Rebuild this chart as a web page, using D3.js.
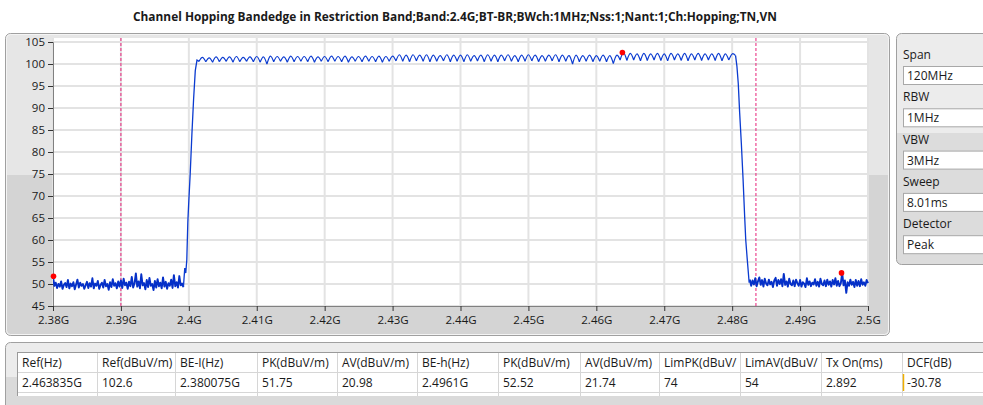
<!DOCTYPE html>
<html><head><meta charset="utf-8">
<script src="https://cdn.jsdelivr.net/npm/d3@7"></script>
<style>
body{margin:0;background:#fff;}
text{font-family:"Open Sans","Noto Sans",sans-serif;fill:#1a1a1a;}
</style></head><body>
<svg id="c" width="983" height="405"></svg>
<script>
const chartTitle = "Channel Hopping Bandedge in Restriction Band;Band:2.4G;BT-BR;BWch:1MHz;Nss:1;Nant:1;Ch:Hopping;TN,VN";
const yTicks = [45,50,55,60,65,70,75,80,85,90,95,100,105];
const xTickValues = [2380,2390,2400,2410,2420,2430,2440,2450,2460,2470,2480,2490,2500];
const xTickLabels = ["2.38G","2.39G","2.4G","2.41G","2.42G","2.43G","2.44G","2.45G","2.46G","2.47G","2.48G","2.49G","2.5G"];
const limitLines = [2390, 2483.5];

// trace, MHz / dBuV/m
const noiseLeftStart = 2380, noiseStep = 0.2;
const noiseLeft = [51.7,49.6,50.3,49.1,50.0,49.4,50.6,48.9,49.8,50.2,
49.3,50.9,49.0,50.1,49.5,50.4,48.8,49.9,51.0,49.2,
50.3,49.6,50.0,48.9,49.7,50.5,49.1,50.2,49.4,51.3,
49.0,50.1,49.6,50.7,48.9,49.8,50.3,49.2,50.9,49.5,
50.0,48.7,50.4,49.3,51.1,49.6,50.2,49.0,50.6,49.4,
50.8,49.1,51.2,49.7,50.3,48.9,50.5,49.5,51.6,49.2,
50.1,52.4,49.4,50.6,49.0,52.2,49.7,50.2,48.8,50.9,
49.3,51.4,49.6,50.0,48.6,50.7,49.2,51.1,49.5,50.3,
49.0,51.5,49.4,50.5,48.9,50.2,49.6,51.0,49.1,52.0,
49.5,50.4,49.2,51.8,49.7,50.1,49.3];
const riseFreq  = [2399.2,2399.4,2399.55,2399.7,2399.85,2400.0,2400.2,2400.45,2400.7,2400.95,2401.2,2401.5];
const riseLevel = [49.3,53.6,52.5,55.5,64,69,75,84,92,98.5,100.9,100.6];
const channelEdgeStart = 2401.5;
const channelPeaks = [101.5,101.4,101.6,101.5,101.6,101.7,101.5,101.6,
101.7,101.6,101.8,101.7,101.6,101.8,101.7,101.7,101.8,101.6,
101.7,101.8,101.7,101.8,101.6,101.7,101.8,101.7,101.8,101.7,
101.8,102.1,102.0,102.1,102.0,102.1,102.0,101.9,102.1,102.0,
102.0,102.1,101.9,102.0,102.1,102.0,102.0,102.1,101.9,102.0,
102.1,102.0,101.9,102.0,102.1,102.0,101.9,102.0,101.9,102.0,
101.9,102.0,101.9,102.0,102.6,102.4,102.3,102.4,102.3,102.4,
102.3,102.4,102.3,102.4,102.3,102.4,102.3,102.3,102.4,102.3,102.3];
const channelEdgeLevels = [100.6,100.5,100.4,100.5,100.6,100.4,100.5,100.6,100.5,100.4,
100.0,100.5,100.6,100.4,100.5,100.6,100.5,100.4,100.6,100.5,
100.6,100.5,100.4,100.6,100.5,100.6,100.5,100.4,100.6,100.7,
100.6,100.5,100.7,100.6,100.5,100.6,100.7,100.5,100.6,100.5,
100.6,100.7,100.5,100.6,100.5,100.7,100.6,100.5,100.6,100.7,
100.5,100.6,100.7,100.5,100.6,100.0,100.5,100.6,100.5,100.6,
100.5,100.1,100.9,100.8,100.9,100.7,100.8,100.9,100.8,100.7,
100.9,100.8,100.7,100.9,100.8,100.9,100.8,100.7,100.9,101.9];
const fallFreq  = [2480.5,2480.7,2480.9,2481.1,2481.35,2481.6,2481.85,2482.0,2482.2,2482.4,2482.5,2482.6];
const fallLevel = [101.9,99.5,95.5,89,82,74,65,60,56,52.2,50.3,51.0];
const noiseRightStart = 2482.6;
const noiseRight = [51.0,49.6,50.8,49.9,51.3,49.5,50.6,51.5,49.8,50.9,
49.4,51.2,50.1,49.7,51.0,49.9,50.5,49.3,50.8,51.4,
49.6,50.9,50.0,51.1,49.5,52.3,49.8,50.6,49.4,51.2,
50.0,49.7,50.8,49.5,51.0,50.2,49.6,50.9,49.4,50.4,
50.1,49.3,51.3,49.8,50.6,49.5,50.3,49.9,51.1,49.6,
50.5,49.4,51.2,50.0,49.7,50.8,49.5,51.0,49.8,50.6,
49.4,50.9,49.9,51.3,49.6,50.7,49.5,50.2,52.5,49.7,
50.8,48.0,50.4,49.6,51.0,49.8,50.5,49.3,50.9,49.6,
50.7,49.5,51.1,49.8,50.4,49.6,50.9,50.2];
const markerFreq  = [2380.075, 2463.835, 2496.1];
const markerLevel = [51.75, 102.6, 52.52];

const settingLabels = ["Span","RBW","VBW","Sweep","Detector"];
const settingValues = ["120MHz","1MHz","3MHz","8.01ms","Peak"];

const tableHeaders = ["Ref(Hz)","Ref(dBuV/m)","BE-I(Hz)","PK(dBuV/m)","AV(dBuV/m)","BE-h(Hz)","PK(dBuV/m)","AV(dBuV/m)","LimPK(dBuV/","LimAV(dBuV/","Tx On(ms)","DCF(dB)"];
const tableValues  = ["2.463835G","102.6","2.380075G","51.75","20.98","2.4961G","52.52","21.74","74","54","2.892","-30.78"];

const svg = d3.select("#c");
const defs = svg.append("defs");
function vgrad(id, split, c1, c2){
  const g = defs.append("linearGradient").attr("id",id).attr("x1",0).attr("y1",0).attr("x2",0).attr("y2",1);
  g.append("stop").attr("offset",0).attr("stop-color",c1);
  g.append("stop").attr("offset",split).attr("stop-color",c1);
  g.append("stop").attr("offset",split).attr("stop-color",c2);
  g.append("stop").attr("offset",1).attr("stop-color",c2);
}
vgrad("gMain", 0.47, "#e6e6e6", "#d4d4d4");
vgrad("gSide", 0.43, "#ececec", "#dcdcdc");
vgrad("gTab", 0.5, "#ececec", "#dadada");

// title
svg.append("text").attr("x",455).attr("y",21).attr("text-anchor","middle")
  .style("font-weight","bold").style("font-size","12px")
  .attr("textLength",644).attr("lengthAdjust","spacingAndGlyphs").text(chartTitle);

// main panel
svg.append("rect").attr("x",5.5).attr("y",33.5).attr("width",884).attr("height",302).attr("rx",5)
  .attr("fill","url(#gMain)").attr("stroke","#a0a0a0");
svg.append("rect").attr("x",6.5).attr("y",34.5).attr("width",882).attr("height",300).attr("rx",4)
  .attr("fill","none").attr("stroke","#f4f4f4");

const x = d3.scaleLinear().domain([2380,2500]).range([53,868]);
const y = d3.scaleLinear().domain([45,105]).range([306,42]);

svg.append("rect").attr("x",53).attr("y",38).attr("width",815).attr("height",268).attr("fill","#fff");
defs.append("clipPath").attr("id","plotClip").append("rect").attr("x",53).attr("y",38).attr("width",816).attr("height",268);

const grid = svg.append("g");
grid.selectAll("line.h").data(yTicks).join("line").attr("class","h")
  .attr("x1",53).attr("x2",868).attr("y1",d=>y(d)).attr("y2",d=>y(d))
  .attr("stroke","#e3e3e3").attr("stroke-width",2);
grid.selectAll("line.v").data(xTickValues).join("line").attr("class","v")
  .attr("y1",38).attr("y2",306).attr("x1",d=>x(d)).attr("x2",d=>x(d))
  .attr("stroke","#e3e3e3").attr("stroke-width",2);

// axes
const yAxis = svg.append("g").attr("transform","translate(53,0)")
  .call(d3.axisLeft(y).tickValues(yTicks).tickSize(5).tickPadding(3).tickFormat(d=>d));
yAxis.select(".domain").attr("stroke","#808080");
yAxis.selectAll(".tick line").attr("stroke","#333");
yAxis.selectAll("text").style("font-size","11.5px").attr("fill","#1a1a1a").style("font-family",'"Open Sans",sans-serif');
const xAxis = svg.append("g").attr("transform","translate(0,306)")
  .call(d3.axisBottom(x).tickValues(xTickValues).tickSize(5).tickPadding(5).tickFormat((d,i)=>xTickLabels[i]));
xAxis.select(".domain").attr("stroke","#808080");
xAxis.selectAll(".tick line").attr("stroke","#333");
xAxis.selectAll("text").style("font-size","11.5px").attr("fill","#1a1a1a").style("font-family",'"Open Sans",sans-serif');

// limit lines
svg.append("g").selectAll("line").data(limitLines).join("line")
  .attr("x1",d=>x(d)).attr("x2",d=>x(d)).attr("y1",38).attr("y2",306)
  .attr("stroke","#e8207a").attr("stroke-width",1).attr("stroke-dasharray","3,2");

// trace
const plot = svg.append("g").attr("clip-path","url(#plotClip)");
const lin = d3.line().x(d=>x(d[0])).y(d=>y(d[1]));
const traceColor = "#0b3bd0";
const leftPts = noiseLeft.map((v,i)=>[noiseLeftStart+i*noiseStep, v]);
const risePts = riseFreq.map((f,i)=>[f, riseLevel[i]]);
const fallPts = fallFreq.map((f,i)=>[f, fallLevel[i]]);
const rightPts = noiseRight.map((v,i)=>[noiseRightStart+i*noiseStep, v]);
[leftPts, rightPts].forEach(p=>{
  plot.append("path").attr("d",lin(p)).attr("fill","none").attr("stroke","#0530c8").attr("stroke-width",1.9).attr("stroke-linejoin","round");
});
[risePts, fallPts].forEach(p=>{
  plot.append("path").attr("d",lin(p)).attr("fill","none").attr("stroke",traceColor).attr("stroke-width",1.3);
});
const arch = d3.line().x(d=>x(d[0])).y(d=>y(d[1])).curve(d3.curveNatural);
let plateauD = "";
channelPeaks.forEach((pk,k)=>{
  const e0 = channelEdgeStart + k;
  plateauD += arch([[e0, channelEdgeLevels[k]],[e0+0.5, pk],[e0+1, channelEdgeLevels[k+1]]]);
});
plot.append("path").attr("d",plateauD).attr("fill","none").attr("stroke",traceColor).attr("stroke-width",1.2);

svg.append("g").selectAll("circle").data(markerFreq).join("circle")
  .attr("cx",d=>x(d)).attr("cy",(d,i)=>y(markerLevel[i])).attr("r",2.8).attr("fill","#ff0000");

// right settings panel
svg.append("rect").attr("x",896.5).attr("y",33.5).attr("width",100).attr("height",231).attr("rx",5)
  .attr("fill","url(#gSide)").attr("stroke","#a0a0a0");
const side = svg.append("g");
settingLabels.forEach((lab,i)=>{
  const top = 45 + i*42.3;
  side.append("text").attr("x",903).attr("y",top+14).style("font-size","12px").text(lab);
  side.append("rect").attr("x",903.5).attr("y",top+21.5).attr("width",90).attr("height",18)
    .attr("fill","#fff").attr("stroke","#a8a8a8");
  side.append("text").attr("x",907).attr("y",top+35).style("font-size","12px").text(settingValues[i]);
});

// table panel
svg.append("rect").attr("x",5.5).attr("y",342.5).attr("width",990).attr("height",70).attr("rx",5)
  .attr("fill","url(#gTab)").attr("stroke","#a0a0a0");
const colEdges = [17,97,175,257,337,417,498,580,659,740,821,902,983];
const tab = svg.append("g");
tab.append("rect").attr("x",17).attr("y",352).attr("width",966).attr("height",44).attr("fill","#fff");
tab.selectAll("line.c").data(colEdges.slice(1,-1)).join("line").attr("class","c")
  .attr("x1",d=>d+0.5).attr("x2",d=>d+0.5).attr("y1",352).attr("y2",396).attr("stroke","#d6d6d6");
[372.5,392.5].forEach(yy=>tab.append("line").attr("x1",17).attr("x2",983).attr("y1",yy).attr("y2",yy).attr("stroke","#d6d6d6"));
tab.append("line").attr("x1",17.5).attr("x2",17.5).attr("y1",352).attr("y2",396).attr("stroke","#9a9a9a");
tab.append("line").attr("x1",17).attr("x2",983).attr("y1",352.5).attr("y2",352.5).attr("stroke","#9a9a9a");
tableHeaders.forEach((h,i)=>{
  tab.append("text").attr("x",colEdges[i]+5).attr("y",367).style("font-size","12px").text(h);
  tab.append("text").attr("x",colEdges[i]+5).attr("y",387).style("font-size","12px").text(tableValues[i]);
});
tab.append("line").attr("x1",903.5).attr("x2",903.5).attr("y1",374).attr("y2",391).attr("stroke","#f0b000").attr("stroke-width",1.5);
</script>
</body></html>
